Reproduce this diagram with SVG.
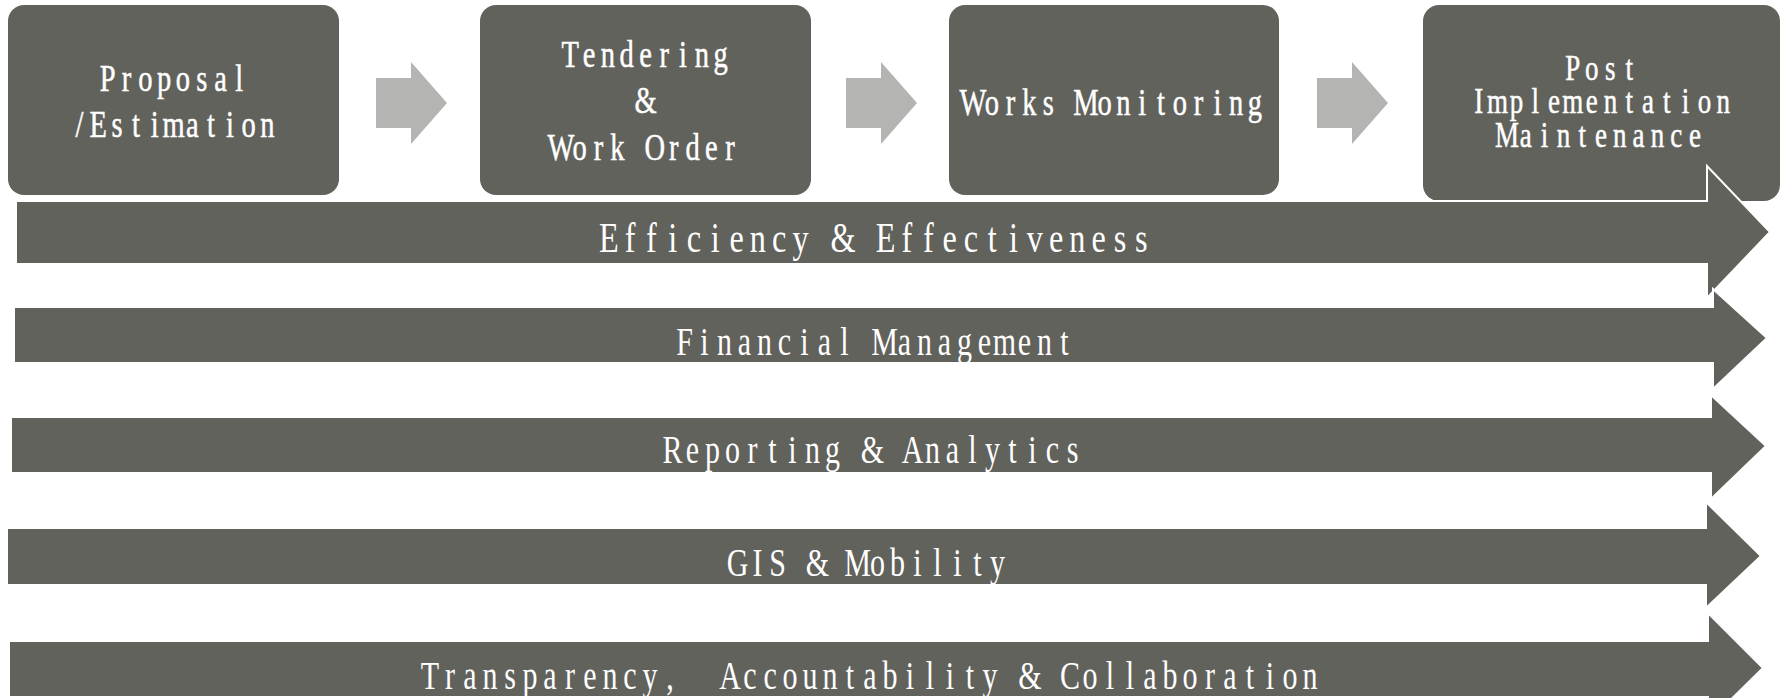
<svg xmlns="http://www.w3.org/2000/svg" width="1791" height="698" viewBox="0 0 1791 698">
<style>
.box{fill:#62625D}
.band{fill:#62625D;stroke:#FFFFFF;stroke-width:2;stroke-linejoin:miter}
.conn{fill:#B4B4B2}
.bt{font-family:"Liberation Serif",serif;font-size:38px;fill:#FFFFFF;stroke:#FFFFFF;stroke-width:0.5;text-anchor:middle}
.bt4{font-size:36px}
.lt{font-family:"Liberation Serif",serif;font-size:40px;fill:#FFFFFF;text-anchor:middle}
.lt1{font-size:43px}
</style>
<rect width="1791" height="698" fill="#FFFFFF"/>
<g id="node-proposal">
<rect class="box" x="8" y="5" width="331" height="190" rx="16"/>
<text class="bt" transform="translate(173.5,91) scale(0.75,1)" x="-87.7 -62.7 -37.6 -12.5 12.5 37.6 62.7 87.7" y="0">Proposal</text>
<text class="bt" transform="translate(173.5,137) scale(0.75,1)" x="-125.3 -100.3 -75.2 -50.1 -25.1 0 25.1 50.1 75.2 100.3 125.3" y="0">/Estimation</text>
</g>
<g id="node-tendering">
<rect class="box" x="480" y="5" width="331" height="190" rx="16"/>
<text class="bt" transform="translate(645.5,67) scale(0.75,1)" x="-100.3 -75.2 -50.1 -25.1 0 25.1 50.1 75.2 100.3" y="0">Tendering</text>
<text class="bt" transform="translate(645.5,113) scale(0.75,1)" x="0" y="0">&amp;</text>
<text class="bt" transform="translate(645.5,160) scale(0.75,1)" x="-112.8 -87.7 -62.7 -37.6 -12.5 12.5 37.6 62.7 87.7 112.8" y="0">Work Order</text>
</g>
<g id="node-monitoring">
<rect class="box" x="949" y="5" width="330" height="190" rx="16"/>
<text class="bt" transform="translate(1114,115) scale(0.75,1)" x="-188 -162.9 -137.9 -112.8 -87.7 -62.7 -37.6 -12.5 12.5 37.6 62.7 87.7 112.8 137.9 162.9 188" y="0">Works Monitoring</text>
</g>
<g id="node-post">
<rect class="box" x="1423" y="5" width="357" height="196" rx="16"/>
<text class="bt bt4" transform="translate(1601,80) scale(0.75,1)" x="-37.6 -12.5 12.5 37.6" y="0">Post</text>
<text class="bt bt4" transform="translate(1601,113) scale(0.75,1)" x="-162.9 -137.9 -112.8 -87.7 -62.7 -37.6 -12.5 12.5 37.6 62.7 87.7 112.8 137.9 162.9" y="0">Implementation</text>
<text class="bt bt4" transform="translate(1601,147) scale(0.75,1)" x="-125.3 -100.3 -75.2 -50.1 -25.1 0 25.1 50.1 75.2 100.3 125.3" y="0">Maintenance</text>
</g>
<g id="connectors">
<polygon class="conn" points="376,78 411,78 411,62 447,103 411,144 411,128 376,128"/>
<polygon class="conn" points="846,78 881,78 881,62 917,103 881,144 881,128 846,128"/>
<polygon class="conn" points="1317,78 1352,78 1352,62 1388,103 1352,144 1352,128 1317,128"/>
</g>
<g id="band-efficiency">
<polygon class="band" points="16,201 1707,201 1707,166 1770,232 1707,298 1707,264 16,264"/>
<text class="lt lt1" transform="translate(875,252) scale(0.75,1)" x="-355 -326.6 -298.2 -269.8 -241.4 -213 -184.6 -156.2 -127.8 -99.4 -71 -42.6 -14.2 14.2 42.6 71 99.4 127.8 156.2 184.6 213 241.4 269.8 298.2 326.6 355" y="0">Efficiency &amp; Effectiveness</text>
</g>
<g id="band-financial">
<polygon class="band" points="14,307 1713,307 1713,289 1767,338 1713,389 1713,363 14,363"/>
<text class="lt" transform="translate(874.5,355) scale(0.75,1)" x="-253.3 -226.7 -200 -173.3 -146.7 -120 -93.3 -66.7 -40 -13.3 13.3 40 66.7 93.3 120 146.7 173.3 200 226.7 253.3" y="0">Financial Management</text>
</g>
<g id="band-reporting">
<polygon class="band" points="11,417 1711,417 1711,395 1766,446 1711,499 1711,473 11,473"/>
<text class="lt" transform="translate(872.5,463) scale(0.75,1)" x="-266.7 -240 -213.3 -186.7 -160 -133.3 -106.7 -80 -53.3 -26.7 0 26.7 53.3 80 106.7 133.3 160 186.7 213.3 240 266.7" y="0">Reporting &amp; Analytics</text>
</g>
<g id="band-gis">
<polygon class="band" points="7,528 1706,528 1706,502 1761,556 1706,608 1706,585 7,585"/>
<text class="lt" transform="translate(867.5,576) scale(0.75,1)" x="-173.3 -146.7 -120 -93.3 -66.7 -40 -13.3 13.3 40 66.7 93.3 120 146.7 173.3" y="0">GIS &amp; Mobility</text>
</g>
<g id="band-transparency">
<polygon class="band" points="9,641 1708,641 1708,613 1763,668 1708,722 1708,697 9,697"/>
<text class="lt" xml:space="preserve" transform="translate(870,689) scale(0.75,1)" x="-586.7 -560 -533.3 -506.7 -480 -453.3 -426.7 -400 -373.3 -346.7 -320 -293.3 -266.7 -240 -213.3 -186.7 -160 -133.3 -106.7 -80 -53.3 -26.7 0 26.7 53.3 80 106.7 133.3 160 186.7 213.3 240 266.7 293.3 320 346.7 373.3 400 426.7 453.3 480 506.7 533.3 560 586.7" y="0">Transparency,  Accountability &amp; Collaboration</text>
</g>
</svg>
